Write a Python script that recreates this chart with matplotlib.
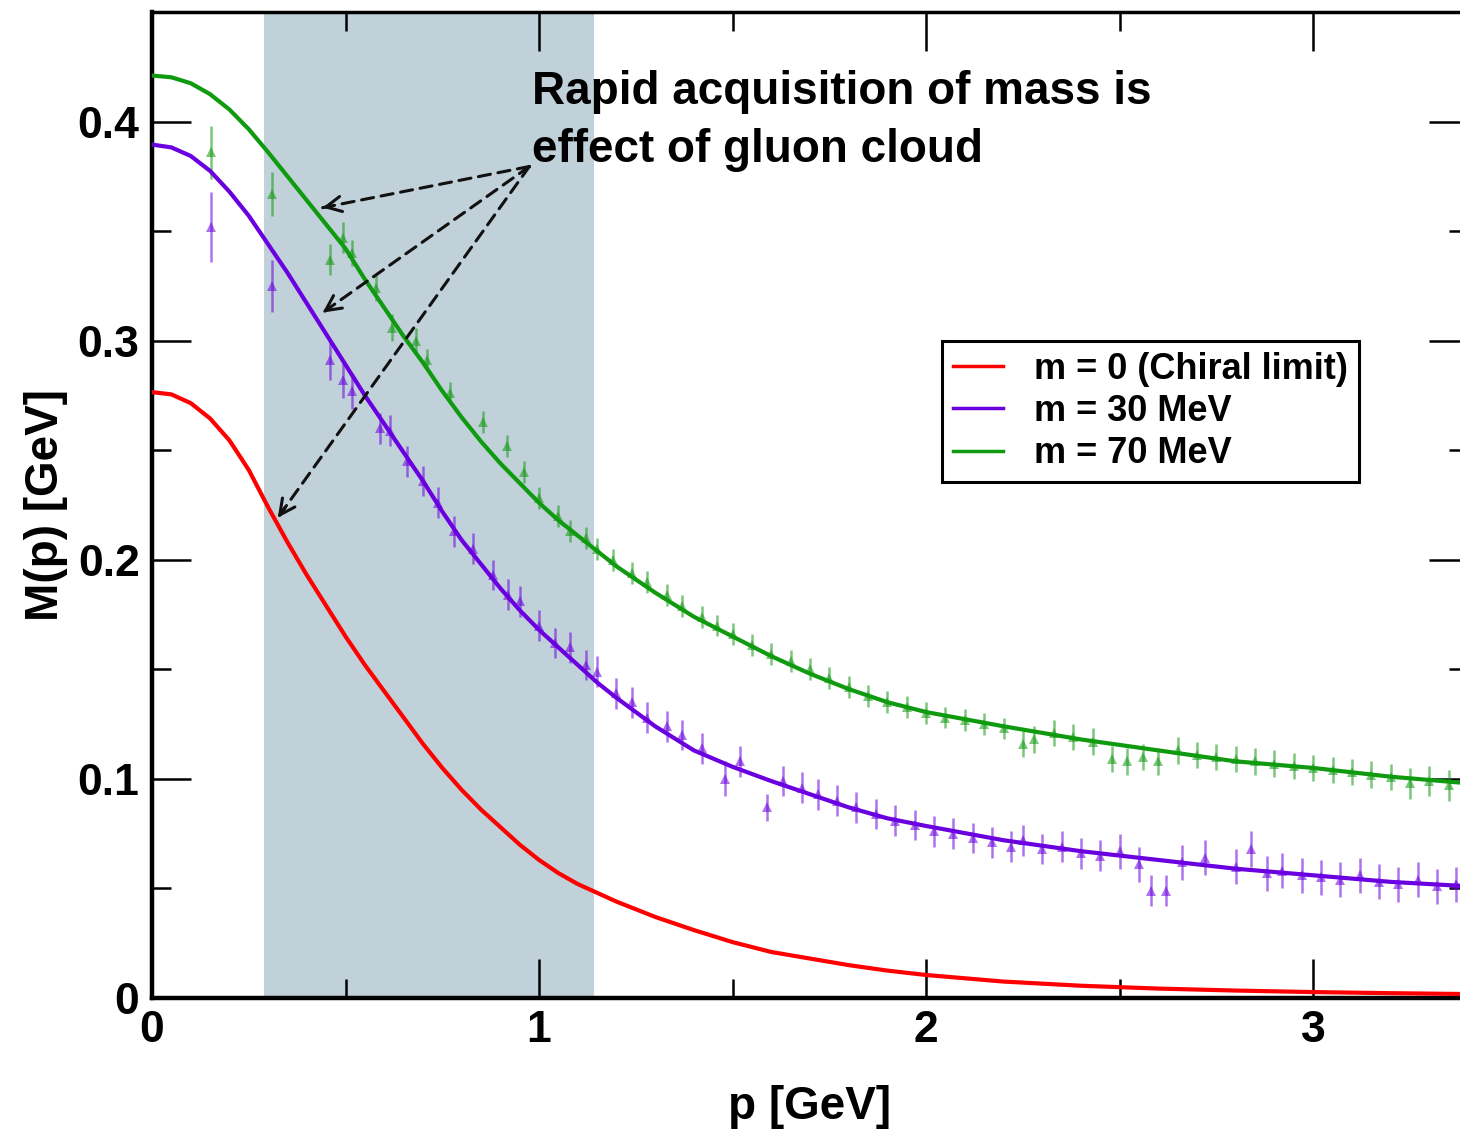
import matplotlib
matplotlib.use("Agg")
import matplotlib.pyplot as plt
from matplotlib.ticker import MultipleLocator, FuncFormatter

plt.rcParams['font.family'] = ['Liberation Sans', 'DejaVu Sans']
plt.rcParams['font.weight'] = 'bold'

# ---- curves ----
p_curve = [0.0, 0.05, 0.1, 0.15, 0.2, 0.25, 0.3, 0.35, 0.4, 0.45, 0.5, 0.55, 0.6,
           0.65, 0.7, 0.75, 0.8, 0.85, 0.9, 0.95, 1.0, 1.05, 1.1, 1.15, 1.2, 1.3,
           1.4, 1.5, 1.6, 1.7, 1.8, 1.9, 2.0, 2.2, 2.4, 2.6, 2.8, 3.0, 3.2, 3.4]
m0_curve = [0.2765, 0.2755, 0.2715, 0.2645, 0.2545, 0.241, 0.224, 0.208, 0.193, 0.179,
            0.165, 0.152, 0.140, 0.128, 0.116, 0.105, 0.095, 0.086, 0.078, 0.070,
            0.063, 0.057, 0.052, 0.048, 0.044, 0.037, 0.031, 0.0255, 0.021, 0.018,
            0.015, 0.0125, 0.0105, 0.0075, 0.0056, 0.0043, 0.0034, 0.0027, 0.0022,
            0.0018]
m30_curve = [0.3895, 0.3882, 0.3843, 0.3775, 0.368, 0.357, 0.344, 0.331, 0.317, 0.303,
             0.289, 0.275, 0.262, 0.249, 0.236, 0.222, 0.209, 0.198, 0.187, 0.177,
             0.168, 0.160, 0.152, 0.144, 0.137, 0.124, 0.113, 0.1055, 0.099, 0.093,
             0.087, 0.082, 0.0785, 0.072, 0.067, 0.063, 0.059, 0.056, 0.053, 0.051]
m70_curve = [0.421, 0.4202, 0.4175, 0.4125, 0.4055, 0.3965, 0.386, 0.375, 0.364, 0.353,
             0.342, 0.328, 0.315, 0.302, 0.290, 0.277, 0.265, 0.254, 0.244, 0.235,
             0.226, 0.218, 0.211, 0.204, 0.197, 0.185, 0.174, 0.165, 0.156, 0.148,
             0.141, 0.135, 0.1305, 0.124, 0.118, 0.113, 0.108, 0.105, 0.101, 0.098]

# ---- lattice data points ----
p70 = [0.152, 0.310, 0.460, 0.493, 0.516, 0.580, 0.620, 0.683, 0.710, 0.770, 0.854,
       0.916, 0.96, 1.00, 1.05, 1.08, 1.12, 1.15, 1.19, 1.24, 1.28, 1.33, 1.37,
       1.42, 1.46, 1.50, 1.55, 1.60, 1.65, 1.70, 1.75, 1.80, 1.85, 1.90, 1.95,
       2.00, 2.05, 2.10, 2.15, 2.20, 2.25, 2.28, 2.33, 2.38, 2.43, 2.48, 2.52,
       2.56, 2.60, 2.65, 2.70, 2.75, 2.80, 2.85, 2.90, 2.95, 3.00, 3.05, 3.10,
       3.15, 3.20, 3.25, 3.30, 3.35, 3.40]
M70 = [0.386, 0.367, 0.337, 0.347, 0.340, 0.324, 0.306, 0.300, 0.291, 0.276, 0.263,
       0.252, 0.240, 0.228, 0.220, 0.213, 0.210, 0.205, 0.200, 0.194, 0.190, 0.184,
       0.179, 0.174, 0.170, 0.166, 0.161, 0.157, 0.154, 0.150, 0.146, 0.142, 0.138,
       0.135, 0.133, 0.130, 0.128, 0.127, 0.125, 0.123, 0.116, 0.118, 0.121, 0.119,
       0.117, 0.109, 0.108, 0.110, 0.108, 0.113, 0.111, 0.110, 0.109, 0.108, 0.107,
       0.106, 0.105, 0.104, 0.103, 0.102, 0.101, 0.098, 0.099, 0.097, 0.098]
E70 = [0.012, 0.010, 0.007, 0.007, 0.006, 0.006, 0.006, 0.006, 0.005, 0.005, 0.005,
       0.005, 0.005, 0.005, 0.005, 0.005, 0.005, 0.005, 0.005, 0.005, 0.005, 0.005,
       0.005, 0.005, 0.005, 0.005, 0.005, 0.005, 0.005, 0.005, 0.005, 0.005, 0.005,
       0.005, 0.005, 0.005, 0.005, 0.005, 0.005, 0.005, 0.006, 0.006, 0.006, 0.006,
       0.006, 0.006, 0.006, 0.006, 0.006, 0.006, 0.006, 0.006, 0.006, 0.006, 0.006,
       0.006, 0.006, 0.006, 0.006, 0.006, 0.006, 0.007, 0.007, 0.007, 0.007]

p30 = [0.152, 0.310, 0.460, 0.493, 0.516, 0.588, 0.614, 0.66, 0.70, 0.74, 0.78, 0.83,
       0.88, 0.92, 0.95, 1.00, 1.04, 1.08, 1.12, 1.15, 1.20, 1.24, 1.28, 1.33, 1.37,
       1.42, 1.48, 1.52, 1.59, 1.63, 1.68, 1.72, 1.77, 1.82, 1.87, 1.92, 1.97, 2.02,
       2.07, 2.12, 2.17, 2.22, 2.25, 2.30, 2.35, 2.40, 2.45, 2.50, 2.55, 2.58, 2.62,
       2.66, 2.72, 2.80, 2.84, 2.88, 2.92, 2.97, 3.02, 3.07, 3.12, 3.17, 3.22, 3.27,
       3.32, 3.37]
M30 = [0.352, 0.325, 0.291, 0.282, 0.277, 0.260, 0.259, 0.245, 0.236, 0.226, 0.213,
       0.205, 0.193, 0.184, 0.181, 0.170, 0.162, 0.160, 0.152, 0.149, 0.139, 0.135,
       0.128, 0.124, 0.120, 0.114, 0.100, 0.108, 0.087, 0.099, 0.096, 0.093, 0.090,
       0.087, 0.084, 0.081, 0.079, 0.076, 0.075, 0.073, 0.071, 0.069, 0.072, 0.068,
       0.069, 0.066, 0.065, 0.067, 0.061, 0.049, 0.049, 0.062, 0.064, 0.060, 0.068,
       0.057, 0.058, 0.056, 0.055, 0.054, 0.056, 0.053, 0.052, 0.054, 0.051, 0.052]
E30 = [0.016, 0.012, 0.009, 0.008, 0.008, 0.007, 0.007, 0.007, 0.007, 0.007, 0.007,
       0.007, 0.007, 0.007, 0.007, 0.007, 0.007, 0.007, 0.007, 0.007, 0.007, 0.007,
       0.007, 0.007, 0.007, 0.007, 0.008, 0.007, 0.006, 0.007, 0.007, 0.007, 0.007,
       0.007, 0.007, 0.007, 0.007, 0.007, 0.007, 0.007, 0.007, 0.007, 0.007, 0.007,
       0.007, 0.007, 0.007, 0.008, 0.008, 0.007, 0.007, 0.008, 0.008, 0.008, 0.008,
       0.008, 0.008, 0.008, 0.008, 0.008, 0.008, 0.008, 0.008, 0.008, 0.008, 0.008]

labels = ["m = 0 (Chiral limit)", "m = 30 MeV", "m = 70 MeV"]
c_red, c_pur, c_grn = "#ff0000", "#6a00e0", "#109a10"

fig = plt.figure(figsize=(14.6, 11.33), dpi=100)
ax = fig.add_axes([152/1460, 135/1133, 1316/1460, 986/1133])

ax.axvspan(0.289, 1.143, color="#c1d1d9", zorder=0, lw=0)

ax.plot(p_curve, m0_curve, color=c_red, lw=3, label=labels[0], zorder=3)
ax.plot(p_curve, m30_curve, color=c_pur, lw=3, label=labels[1], zorder=3)
ax.plot(p_curve, m70_curve, color=c_grn, lw=3, label=labels[2], zorder=3)

ax.errorbar(p30, M30, yerr=E30, fmt='^', ms=7, color=c_pur, alpha=0.55,
            elinewidth=1.8, capsize=0, mew=0, zorder=2)
ax.errorbar(p70, M70, yerr=E70, fmt='^', ms=7, color=c_grn, alpha=0.55,
            elinewidth=1.8, capsize=0, mew=0, zorder=2)

# annotation arrows
start = (0.975, 0.3795)
ends = [(0.441, 0.3607), (0.441, 0.3128), (0.325, 0.2192)]
for e in ends:
    ax.annotate('', xy=e, xytext=start,
                arrowprops=dict(arrowstyle='-', ls=(0, (4, 2.5)), lw=2.2, color='#111111',
                                shrinkA=0, shrinkB=0), zorder=4)
    dx, dy = e[0]-start[0], e[1]-start[1]
    ax.annotate('', xy=e, xytext=(e[0]-0.03*dx, e[1]-0.03*dy),
                arrowprops=dict(arrowstyle='->,head_length=1.1,head_width=0.55', lw=2.2,
                                color='#111111', shrinkA=0, shrinkB=0), zorder=4)

ax.text(0.981, 0.4078, "Rapid acquisition of mass is", fontsize=33,
        fontweight='bold', va='baseline', ha='left', zorder=5)
ax.text(0.981, 0.3817, "effect of gluon cloud", fontsize=33,
        fontweight='bold', va='baseline', ha='left', zorder=5)

ax.set_xlim(0, 3.4)
ax.set_ylim(0, 0.45)
ax.xaxis.set_major_locator(MultipleLocator(1))
ax.xaxis.set_minor_locator(MultipleLocator(0.5))
ax.yaxis.set_major_locator(MultipleLocator(0.1))
ax.yaxis.set_minor_locator(MultipleLocator(0.05))
ax.xaxis.set_major_formatter(FuncFormatter(lambda v, _: f"{v:g}"))
ax.yaxis.set_major_formatter(FuncFormatter(lambda v, _: f"{v:g}"))
ax.tick_params(which='both', direction='in', top=True, right=True, width=1.8,
               labelsize=32, color='black')
ax.tick_params(which='major', length=28, pad=9)
ax.tick_params(which='minor', length=14)
for s in ax.spines.values():
    s.set_linewidth(2.5)
ax.spines['left'].set_linewidth(3.2)
ax.spines['bottom'].set_linewidth(3.2)
for lab in ax.get_xticklabels() + ax.get_yticklabels():
    lab.set_fontweight('bold')

ax.set_xlabel("p [GeV]", fontsize=33, fontweight='bold', labelpad=24)
ax.set_ylabel("M(p) [GeV]", fontsize=33, fontweight='bold', labelpad=7)

leg = ax.legend(loc='upper left', bbox_to_anchor=(942/1460, 1-341/1133),
                bbox_transform=fig.transFigure, fontsize=26, frameon=True,
                fancybox=False, edgecolor='black', handlelength=1.4,
                handletextpad=0.85, borderpad=0.3, labelspacing=0.2,
                borderaxespad=0, framealpha=1)
leg.get_frame().set_linewidth(2.2)
for t in leg.get_texts():
    t.set_fontweight('bold')
for h in leg.get_lines():
    h.set_linewidth(2.5)

fig.savefig("out.png", dpi=100)
